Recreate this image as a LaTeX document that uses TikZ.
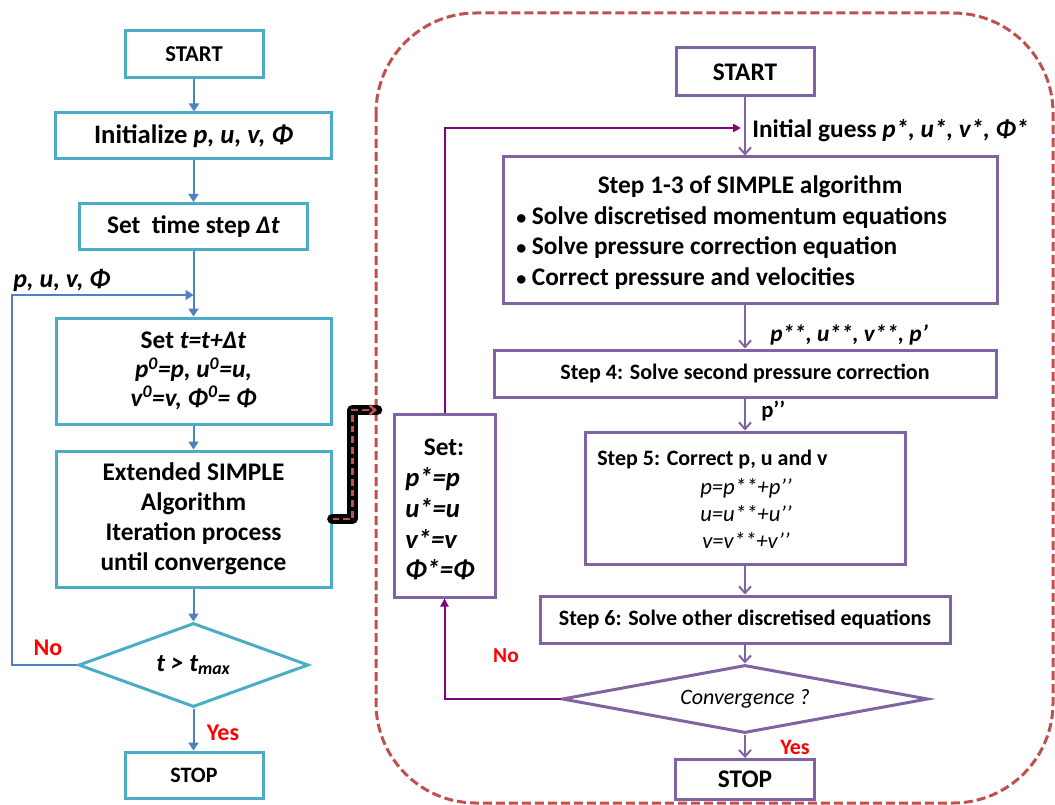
\documentclass[tikz,border=0pt]{standalone}
\usepackage{fontspec}
\setmainfont{Carlito}
\usetikzlibrary{arrows.meta,shapes.geometric}
\definecolor{cyanc}{HTML}{4BACC6}
\definecolor{bluea}{HTML}{4F81BD}
\definecolor{purp}{HTML}{8064A2}
\definecolor{magc}{HTML}{800080}
\definecolor{dashc}{HTML}{C0504D}
\definecolor{redl}{HTML}{FF0000}
\newcommand{\smbul}{{\fontsize{15pt}{15pt}\selectfont\textbullet}\ }
\begin{document}
\begin{tikzpicture}[x=0.75pt,y=-0.75pt,
 sz/.style 2 args={minimum width=#1*0.75pt, minimum height=#2*0.75pt},
 cbox/.style={draw=cyanc, line width=2.25pt, inner sep=0pt, align=center, font=\bfseries\fontsize{19pt}{22.5pt}\selectfont},
 pbox/.style={draw=purp, line width=2.25pt, inner sep=0pt, align=center, font=\bfseries\fontsize{19pt}{23pt}\selectfont},
 larr/.style={draw=bluea, line width=1.5pt, -{Triangle[length=6pt,width=7.5pt]}},
 parr/.style={draw=purp, line width=1.5pt, -{Straight Barb[length=5pt,width=9pt]}},
 marr/.style={draw=magc, line width=1.5pt, -{Triangle[length=6pt,width=6pt]}},
 txt/.style={inner sep=0pt, align=left},
 yn/.style={inner sep=0pt, text=redl, font=\bfseries\fontsize{18pt}{20pt}\selectfont},
]
\useasboundingbox (0,0) rectangle (1055,805);
% container
\draw[dashc, line width=2.25pt, dash pattern=on 6.75pt off 3pt, rounded corners=75pt] (376,13) rectangle (1053,803);

% left column
\node[cbox, sz={138}{47}, font=\bfseries\fontsize{17pt}{20pt}\selectfont] (lstart) at (194,54.5) {START};
\node[cbox, sz={276}{46}, font=\bfseries\fontsize{20pt}{22pt}\selectfont] (linit) at (193.5,136) {Initialize \textit{p, u, v, Φ}};
\node[cbox, sz={228}{46}] (lstep) at (193.5,226.5) {Set\ \ time step \textit{Δt}};
\node[cbox, sz={275}{106}, font=\bfseries\fontsize{19pt}{21.5pt}\selectfont] (lset) at (193.5,371) {Set \textit{t=t+Δt}\\\textit{p\textsuperscript{0}=p, u\textsuperscript{0}=u,}\\\textit{v\textsuperscript{0}=v, Φ\textsuperscript{0}= Φ}};
\node[cbox, sz={275}{136}] (lext) at (193.5,519) {Extended SIMPLE\\Algorithm\\Iteration process\\until convergence};
\node[cbox, diamond, aspect=2.74, sz={230}{84}] (ldia) at (193.5,665) {\textit{t > t\textsubscript{max}}};
\node[cbox, sz={138}{46}, font=\bfseries\fontsize{16.5pt}{20pt}\selectfont] (lstop) at (194,775) {STOP};

\draw[larr] (lstart.south) -- (lstart.south |- linit.north);
\draw[larr] (linit.south) -- (lstep.north);
\draw[larr] (lstep.south) -- (lset.north);
\draw[larr] (lset.south) -- (lext.north);
\draw[larr] (lext.south) -- (ldia.north);
\draw[larr] (ldia.south) -- (ldia.south |- lstop.north);
\coordinate (ljoin) at (193.5,295);
\coordinate (lloop) at (12,295);
\draw[larr] (ldia.west) -| (lloop) -- (ljoin);

\node[inner sep=0pt, anchor=base west, font=\bfseries\itshape\fontsize{19.5pt}{20pt}\selectfont] (lpuv) at (13,287) {p, u, v, Φ};
\node[yn] (lno) at (48,648) {No};
\node[yn] (lyes) at (223,733) {Yes};

% link to the inner loop
\coordinate (cin) at (377,410);
\draw[black, line width=8pt, line cap=round, line join=round] (lext.east) -- ++(20,0) |- (cin);
\draw[dashc, line width=2pt, dash pattern=on 5pt off 3pt, -{Straight Barb[length=4pt,width=7pt]}] (lext.east) -- ++(20,0) |- (cin);

% right column
\node[pbox, sz={138}{48}] (rstart) at (745,72) {START};
\node[pbox, sz={494}{146}] (rs13) at (750,230) {};
\node[txt, font=\bfseries\fontsize{19pt}{23pt}\selectfont] (rs13t) at (750,187) {Step 1-3 of SIMPLE algorithm};
\node[txt, anchor=west, font=\bfseries\fontsize{19pt}{23pt}\selectfont] (rs13b) at (516,248) {\smbul Solve discretised momentum equations\\\smbul Solve pressure correction equation\\\smbul Correct pressure and velocities};
\node[pbox, sz={502}{47}, font=\bfseries\fontsize{16.5pt}{20pt}\selectfont] (rs4) at (745,373.5) {Step 4: Solve second pressure correction};
\node[pbox, sz={320}{132}] (rs5) at (745,498) {};
\node[txt, anchor=west, font=\bfseries\fontsize{16.5pt}{20pt}\selectfont] (rs5t) at (597,460) {Step 5: Correct p, u and v};
\node[txt, align=center, font=\itshape\fontsize{17pt}{20pt}\selectfont] (rs5e) at (746,513.5) {p=p**+p’’\\u=u**+u’’\\v=v**+v’’};
\node[pbox, sz={410}{47}, font=\bfseries\fontsize{16.5pt}{20pt}\selectfont] (rs6) at (745,619.5) {Step 6: Solve other discretised equations};
\node[pbox, diamond, aspect=5.4, sz={366}{68}, font=\itshape\fontsize{16.5pt}{20pt}\selectfont] (rdia) at (745,699) {Convergence ?};
\node[pbox, sz={139}{40}] (rstop) at (745,779.5) {STOP};
\node[pbox, sz={101}{183}] (rset) at (444.5,505.5) {};
\node[txt, font=\bfseries\fontsize{19pt}{23pt}\selectfont] (rsett) at (444,447) {Set:};
\node[txt, anchor=west, font=\bfseries\itshape\fontsize{20pt}{23pt}\selectfont] (rsetv) at (405,524) {p*=p\\u*=u\\v*=v\\Φ*=Φ};

\draw[parr] (rstart.south) -- (rstart.south |- rs13.north);
\draw[parr] (rs4.north |- rs13.south) -- (rs4.north);
\draw[parr] (rs4.south) -- (rs5.north);
\draw[parr] (rs5.south) -- (rs6.north);
\draw[parr] (rs6.south) -- (rdia.north);
\draw[parr] (rdia.south) -- (rstop.north);
\draw[marr] (rdia.west) -| (rset.south);
\coordinate (rjoin) at (741,128);
\draw[marr] (rset.north) |- (rjoin);

\node[inner sep=0pt, anchor=base west, font=\bfseries\fontsize{19pt}{20pt}\selectfont] (rinit) at (752,138) {Initial guess \textit{p*, u*, v*, Φ*}};
\node[inner sep=0pt, anchor=base west, font=\bfseries\itshape\fontsize{17.5pt}{20pt}\selectfont] (rpss) at (770,341) {p**, u**, v**, p’};
\node[inner sep=0pt, anchor=base west, font=\bfseries\fontsize{17pt}{20pt}\selectfont] (rpp) at (761,417) {p’’};
\node[yn, font=\bfseries\fontsize{16pt}{18pt}\selectfont] (rno) at (506,656) {No};
\node[yn, font=\bfseries\fontsize{16.5pt}{18pt}\selectfont] (ryes) at (795,747) {Yes};
\end{tikzpicture}
\end{document}
